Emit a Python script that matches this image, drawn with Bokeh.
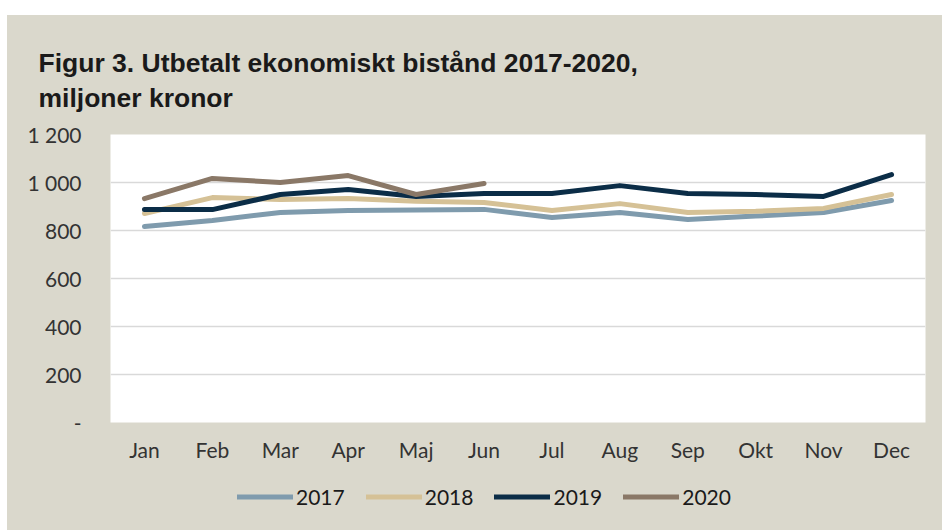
from bokeh.plotting import figure
from bokeh.models import FactorRange, FixedTicker, Legend, LegendItem, Spacer
from bokeh.layouts import column, row
from bokeh.embed import file_html
from bokeh.resources import INLINE

months = ["Jan", "Feb", "Mar", "Apr", "Maj", "Jun", "Jul", "Aug", "Sep", "Okt", "Nov", "Dec"]
y2017 = [817, 842, 875, 883, 885, 888, 854, 875, 846, 860, 875, 925]
y2018 = [871, 937, 929, 933, 922, 917, 883, 912, 875, 880, 892, 950]
y2019 = [887, 887, 950, 971, 942, 954, 954, 987, 954, 950, 942, 1033]
y2020 = [933, 1017, 1000, 1029, 950, 996]
years = ["2017", "2018", "2019", "2020"]
series = [y2017, y2018, y2019, y2020]
colors = ["#7f9bad", "#d5c196", "#0b2d47", "#8a7867"]
yticks = [0, 200, 400, 600, 800, 1000, 1200]
ytick_labels = {0: "-", 1000: "1 000", 1200: "1 200"}
title_text = "Figur 3. Utbetalt ekonomiskt bistånd 2017-2020,\nmiljoner kronor"

BG = "#dad8cc"
FONT = "Lato"
W = 935

p = figure(width=W, height=460, x_range=FactorRange(*months), y_range=(0, 1200),
           output_backend="svg", toolbar_location=None,
           min_border_left=103, min_border_right=17, min_border_top=119, min_border_bottom=53)
p.border_fill_color = BG
p.background_fill_color = "white"
p.outline_line_color = None

for yr, vals, c in zip(years, series, colors):
    p.line(months[:len(vals)], vals, line_color=c, line_width=5,
           line_cap="round", line_join="round")

p.yaxis.ticker = FixedTicker(ticks=yticks)
p.yaxis.major_label_overrides = ytick_labels
for ax in (p.xaxis, p.yaxis):
    ax.axis_line_color = None
    ax.major_tick_line_color = None
    ax.minor_tick_line_color = None
    ax.major_label_text_font = FONT
    ax.major_label_text_font_size = "21px"
    ax.major_label_text_color = "#333333"
p.yaxis.major_label_standoff = 23
p.xaxis.major_label_standoff = 8
p.xgrid.grid_line_color = None
p.ygrid.grid_line_color = "#d9d9d9"
p.ygrid.grid_line_width = 1.5

p.title.text = title_text
p.title.align = "left"
p.title.offset = -72
p.title.standoff = 43
p.title.text_font = "Liberation Sans"
p.title.text_font_style = "bold"
p.title.text_font_size = "26.5px"
p.title.text_color = "#1a1a1a"
p.title.text_line_height = 1.17

# separate strip holding the legend below the chart
pl = figure(width=W, height=55, x_range=FactorRange(*months), y_range=(5000, 6000),
            output_backend="svg", toolbar_location=None,
            min_border_left=0, min_border_right=0, min_border_top=0, min_border_bottom=0)
pl.border_fill_color = BG
pl.background_fill_color = None
pl.outline_line_color = None
pl.axis.visible = False
pl.grid.grid_line_color = None
leg_renderers = []
for yr, vals, c in zip(years, series, colors):
    leg_renderers.append(pl.line(months[:len(vals)], vals, line_color=c, line_width=5,
                                 line_cap="round", line_join="round"))

legend = Legend(items=[LegendItem(label=yr, renderers=[r]) for yr, r in zip(years, leg_renderers)],
                orientation="horizontal", location=(127, 21),
                background_fill_alpha=0, border_line_color=None,
                label_text_font=FONT, label_text_font_size="21px", label_text_color="#1a1a1a",
                glyph_width=56, glyph_height=21, label_standoff=3, spacing=21,
                padding=0, margin=0, label_height=21)
pl.add_layout(legend)

inner = column(p, pl, spacing=0, styles={"background-color": BG})
layout = column(Spacer(width=942, height=15), row(Spacer(width=7, height=515), inner))
open("out.html", "w").write(file_html(layout, INLINE))
